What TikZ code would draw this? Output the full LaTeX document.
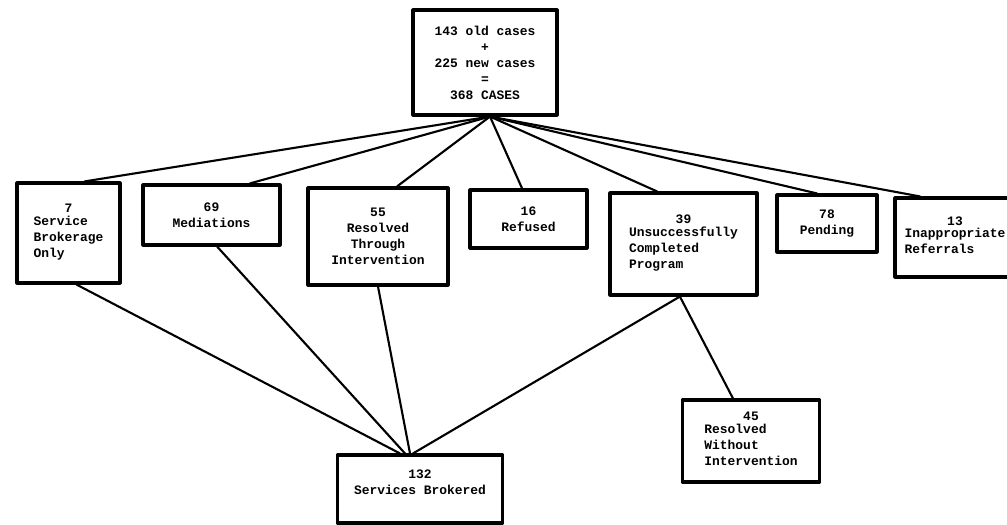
\documentclass[tikz,border=0pt]{standalone}
\usepackage{fontspec}
\setmonofont{Liberation Mono}
\newcommand{\lft}[1]{\begin{tabular}{@{}l@{}}#1\end{tabular}}
\begin{document}
\begin{tikzpicture}[x=0.025cm, y=-0.025cm, line join=round, line cap=round,
	font=\ttfamily\bfseries\fontsize{9.2}{11.4}\selectfont,
	box/.style={draw, line width=2.2pt, align=center, inner sep=2pt},
	link/.style={line width=1.5pt}]
\useasboundingbox (0,0) rectangle (1007,525);

\node[box, minimum width=3.6cm, minimum height=2.625cm] (top) at (485,62.5) {143 old cases\\+\\225 new cases\\=\\368 CASES};

\node[box, minimum width=2.575cm, minimum height=2.5cm] (sbo) at (68.5,233) {7\\\lft{Service\\Brokerage\\Only}};
\node[box, minimum width=3.425cm, minimum height=1.5cm] (med) at (211.5,215) {69\\Mediations};
\node[box, minimum width=3.5cm, minimum height=2.425cm] (rti) at (378,236.5) {55\\Resolved\\Through\\Intervention};
\node[box, minimum width=2.925cm, minimum height=1.45cm] (ref) at (528.5,219) {16\\Refused};
\node[box, minimum width=3.675cm, minimum height=2.55cm] (ucp) at (683.5,244) {39\\\lft{Unsuccessfully\\Completed\\Program}};
\node[box, minimum width=2.5cm, minimum height=1.425cm] (pend) at (827,223.5) {78\\Pending};
\node[box, minimum width=3cm, minimum height=1.975cm] (inap) at (955,237.5) {13\\\lft{Inappropriate\\Referrals}};

\node[box, minimum width=3.425cm, minimum height=2.05cm] (rwi) at (751,441) {45\\\lft{Resolved\\Without\\Intervention}};
\node[box, minimum width=4.125cm, minimum height=1.7cm, text depth=10pt] (sb) at (420,489) {132\\Services Brokered};

% from the total
\coordinate (hub) at ([xshift=0.125cm]top.south);
\draw[link] (hub)--([xshift=0.4cm]sbo.north);
\draw[link] (hub)--([xshift=0.96cm]med.north);
\draw[link] (hub)--([xshift=0.475cm]rti.north);
\draw[link] (hub)--([xshift=-0.16cm]ref.north);
\draw[link] (hub)--([xshift=-0.66cm]ucp.north);
\draw[link] (hub)--([xshift=-0.25cm]pend.north);
\draw[link] (hub)--([xshift=-0.875cm]inap.north);

% into services brokered
\draw[link] ([xshift=0.2cm]sbo.south)--([xshift=-0.5cm]sb.north);
\draw[link] ([xshift=0.14cm]med.south)--([xshift=-0.375cm]sb.north);
\draw[link] (rti.south)--([xshift=-0.25cm]sb.north);
\draw[link] ([xshift=-0.09cm]ucp.south)--([xshift=-0.175cm]sb.north);
\draw[link] ([xshift=-0.09cm]ucp.south)--([xshift=-0.45cm]rwi.north);
\end{tikzpicture}
\end{document}
